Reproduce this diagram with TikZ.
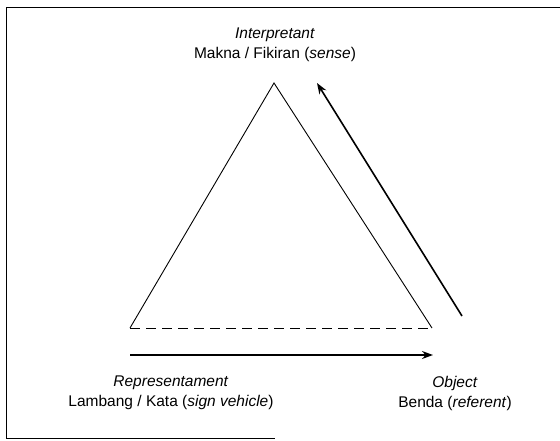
\documentclass[tikz,border=0pt]{standalone}
\usepackage{fontspec}
\setmainfont{Liberation Sans}
\usepackage{tikz}
\usetikzlibrary{arrows.meta, positioning, calc}

\begin{document}
\begin{tikzpicture}[
    x=1pt, y=-1pt,
    every node/.style={font=\fontsize{15.5}{20}\selectfont},
    label/.style={align=center, inner sep=0pt},
    side/.style={line width=0.9pt},
    arrow/.style={-{Stealth[length=11pt, width=8pt]}, line width=1.6pt}
]
    \useasboundingbox (0,0) rectangle (560,440);

    % frame of the scan
    \draw[line width=1pt] (560,7) -- (6,7) -- (6,438) -- (275,438);

    % corners of the triangle
    \coordinate (apex) at (274,83);
    \coordinate (left) at (130,328);
    \coordinate (right) at (432,328);

    \draw[side] (left) -- (apex) -- (right);
    \draw[side, dash pattern=on 10pt off 6pt] (left) -- (right);

    % labels
    \node[label] (interp) at (275,45) {\textit{Interpretant}\\Makna / Fikiran (\textit{sense})};
    \node[label] (repr) at (171,393) {\textit{Representament}\\Lambang / Kata (\textit{sign vehicle})};
    \node[label] (obj) at (455,393) {\textit{Object}\\Benda (\textit{referent})};

    % arrows
    \coordinate (a1) at (130,355);
    \coordinate (a2) at (433,355);
    \coordinate (b1) at (462,316);
    \coordinate (b2) at (317,83);
    \draw[arrow] (a1) -- (a2);
    \draw[arrow] (b1) -- (b2);
\end{tikzpicture}
\end{document}
